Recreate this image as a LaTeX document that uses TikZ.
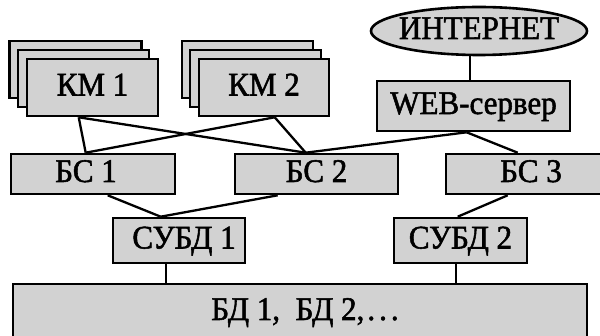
\documentclass[tikz,border=0pt]{standalone}
\usepackage{fontspec}
\setmainfont{Liberation Serif}
\newfontfamily\labelfont[FakeBold=1.6, FakeStretch=0.94]{Liberation Serif}
\usetikzlibrary{shapes.geometric}
\definecolor{boxgray}{RGB}{210,210,210}
\tikzset{
  box/.style={draw=black, fill=boxgray, line width=2.6pt, inner sep=0pt,
    text height=22pt, text depth=6pt, font=\labelfont\fontsize{33}{38}\selectfont},
  cloud/.style={box, ellipse},
  link/.style={line width=2.3pt}
}
\newcommand\dotsrow{.\kern4pt.\kern4pt.}
\begin{document}
\begin{tikzpicture}[x=1pt, y=-1pt]
\useasboundingbox (0,0) rectangle (600,336);

% workstation stacks
\node[box, minimum width=132, minimum height=57] (km1c) at (75.5,69.5) {};
\node[box, minimum width=131, minimum height=57] (km1b) at (83.5,78.5) {};
\node[box, minimum width=131, minimum height=57] (km1) at (92.5,87.5) {КМ 1};
\node[box, minimum width=131, minimum height=57] (km2c) at (247.5,69.5) {};
\node[box, minimum width=131, minimum height=57] (km2b) at (255.5,78.5) {};
\node[box, minimum width=130, minimum height=57] (km2) at (264,87.5) {КМ 2};

% internet and web server
\node[cloud, minimum width=216, minimum height=48] (inet) at (479,31) {\makebox[0pt]{ИНТЕРНЕТ}};
\node[box, minimum width=193, minimum height=50] (web) at (473.5,106) {WEB-сервер};

% application servers
\node[box, minimum width=164, minimum height=40] (bs1) at (93,174) {\hspace*{-14pt}БС 1};
\node[box, minimum width=163, minimum height=40] (bs2) at (316.5,174) {БС 2};
\node[box, minimum width=170, minimum height=40] (bs3) at (531,174) {БС 3};

% database management systems
\node[box, minimum width=132, minimum height=45] (db1) at (179,240.5) {\hspace*{10pt}СУБД 1};
\node[box, minimum width=133, minimum height=45] (db2) at (460.5,240.5) {СУБД 2};

% data storage
\node[box, minimum width=574, minimum height=56] (bd) at (300,312) {\hspace*{10pt}БД 1,\ \ БД 2,\kern3pt\dotsrow};

% connections
\draw[link] ([xshift=53]km1.south west) -- ([xshift=76]bs1.north west);
\draw[link] ([xshift=53]km1.south west) -- ([xshift=72]bs2.north west);
\draw[link] ([xshift=77]km2.south west) -- ([xshift=76]bs1.north west);
\draw[link] ([xshift=77]km2.south west) -- ([xshift=72]bs2.north west);
\draw[link] ([xshift=-9]inet.south) -- ([xshift=-9]inet.south |- web.north);
\draw[link] ([xshift=91]web.south west) -- ([xshift=72]bs2.north west);
\draw[link] ([xshift=91]web.south west) -- ([xshift=73]bs3.north west);
\draw[link] ([xshift=98]bs1.south west) -- ([xshift=49]db1.north west);
\draw[link] ([xshift=44]bs2.south west) -- ([xshift=49]db1.north west);
\draw[link] ([xshift=63]bs3.south west) -- ([xshift=65]db2.north west);
\draw[link] ([xshift=54]db1.south west) -- ([xshift=54]db1.south west |- bd.north);
\draw[link] ([xshift=63]db2.south west) -- ([xshift=63]db2.south west |- bd.north);
\end{tikzpicture}
\end{document}
